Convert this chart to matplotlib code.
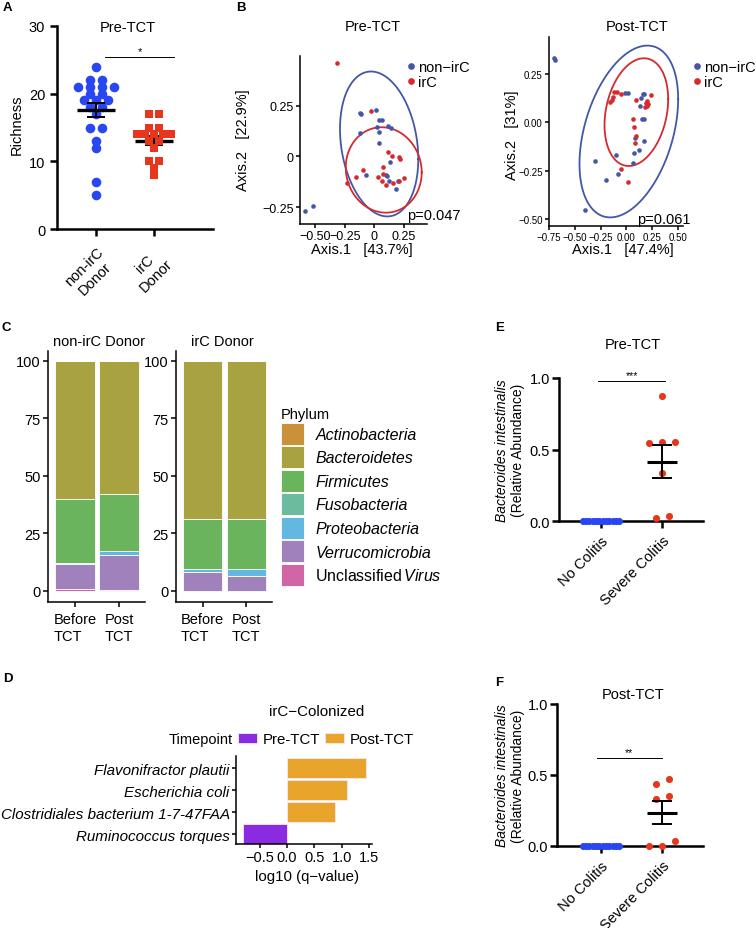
import numpy as np
import matplotlib
matplotlib.use("Agg")
import matplotlib.pyplot as plt
from matplotlib.patches import Patch
from matplotlib.lines import Line2D

plt.rcParams['font.family'] = ['Liberation Sans', 'DejaVu Sans']
plt.rcParams['mathtext.fontset'] = 'custom'
plt.rcParams['mathtext.rm'] = 'Liberation Sans'
plt.rcParams['mathtext.it'] = 'Liberation Sans:italic'

# ---- A: richness, pre-TCT ----
richness_groups = ['non-irC\nDonor', 'irC\nDonor']
richness_non_irc = [24, 22, 22, 21, 21, 21, 21, 20, 20, 19, 19, 19,
                    18, 18, 17, 15, 15, 13, 12, 7, 5]
richness_irc = [17, 17, 15, 15, 14, 14, 14, 14, 14, 13, 13, 12, 10, 10, 9, 8]

# ---- B: PCoA ----
pre_non_x = [-0.586, -0.524, -0.115, -0.118, 0.013, 0.041, 0.064, 0.021, 0.120,
             0.139, 0.038, -0.123, 0.041, 0.134, -0.070, 0.103, 0.112, 0.124,
             0.200, 0.185]
pre_non_y = [-0.27, -0.245, 0.21, 0.215, 0.227, 0.18, 0.178, 0.143, 0.15,
             0.14, 0.12, 0.115, 0.066, -0.03, -0.09, -0.09, -0.095, -0.12,
             -0.12, -0.16]
pre_irc_x = [-0.314, -0.027, 0.120, 0.154, 0.214, 0.222, 0.072, -0.098, -0.155,
             -0.234, 0.030, 0.072, 0.066, 0.100, 0.162, 0.214, 0.253]
pre_irc_y = [0.46, 0.225, 0.02, 0.0, -0.005, -0.011, -0.05, -0.065, -0.10,
             -0.13, -0.10, -0.087, -0.12, -0.14, -0.13, -0.12, -0.105]
post_non_x = [-0.70, -0.69, -0.01, 0.02, 0.16, 0.175, 0.14, 0.13, 0.155, 0.17,
              0.085, 0.17, 0.12, 0.07, -0.10, 0.06, -0.30, -0.085, -0.20, -0.405]
post_non_y = [0.33, 0.32, 0.15, 0.15, 0.145, 0.148, 0.128, 0.086, 0.02, 0.016,
              -0.083, -0.097, -0.14, -0.16, -0.17, -0.21, -0.20, -0.265, -0.30, -0.45]
post_irc_x = [-0.12, -0.09, -0.05, -0.13, -0.16, -0.14, 0.095, 0.235, 0.20, 0.19,
              0.21, 0.18, 0.20, 0.06, 0.07, 0.09, 0.085, -0.05, 0.02]
post_irc_y = [0.155, 0.157, 0.148, 0.13, 0.107, 0.114, 0.117, 0.143, 0.112, 0.10,
              0.095, 0.08, 0.083, 0.017, -0.022, -0.07, -0.105, -0.24, -0.31]
# ellipse: centre x, centre y, x half-width, y shift at x-extreme, remaining y half-axis
ell_pre_non = [0.042, 0.061, 0.333, -0.074, 0.349]
ell_pre_irc = [0.081, -0.067, 0.323, -0.012, 0.21]
ell_post_non = [0.024, -0.047, 0.479, 0.167, 0.411]
ell_post_irc = [0.097, 0.053, 0.309, 0.067, 0.27]
pcoa_p = ['p=0.047', 'p=0.061']

# ---- C: phylum composition ----
phyla = ['Actinobacteria', 'Bacteroidetes', 'Firmicutes', 'Fusobacteria',
         'Proteobacteria', 'Verrucomicrobia', 'Unclassified Virus']
phylum_colors = ['#C8913A', '#A9A240', '#6BB45E', '#6DBB9F', '#63B8E2',
                 '#A081BC', '#D165A6']
timepoints_c = ['Before\nTCT', 'Post\nTCT']
# rows follow phyla, columns: before, post
non_irc_pct = [[0, 0], [60.0, 58.0], [27.9, 24.7], [0, 0], [0.5, 1.5],
               [10.8, 15.5], [0.8, 0.3]]
irc_pct = [[0, 0], [68.8, 68.8], [21.8, 21.8], [0, 0], [1.3, 2.7],
           [8.1, 6.7], [0, 0]]

# ---- D: differential species ----
species = ['Ruminococcus torques', 'Clostridiales bacterium 1-7-47FAA',
           'Escherichia coli', 'Flavonifractor plautii']
log_q = [-0.81, 0.87, 1.10, 1.44]
species_time = ['Pre-TCT', 'Post-TCT', 'Post-TCT', 'Post-TCT']
time_colors = {'Pre-TCT': '#8A2BE2', 'Post-TCT': '#E9A42B'}

# ---- E/F: Bacteroides intestinalis ----
colitis_groups = ['No Colitis', 'Severe Colitis']
e_no = [0.0] * 12
e_severe = [0.874, 0.551, 0.542, 0.549, 0.337, 0.021, 0.035]
f_no = [0.0] * 12
f_severe = [0.475, 0.44, 0.353, 0.329, 0.038, 0.0, 0.0]

BLUE = '#2846F2'
RED = '#E8361C'
PC_BLUE = '#4457A6'
PC_RED = '#D62A2E'

W, H = 756, 929
fig = plt.figure(figsize=(W / 100, H / 100), dpi=100)
fig.patch.set_facecolor('white')


def add_axes(x0, y0, x1, y1):
    return fig.add_axes([x0 / W, 1 - y1 / H, (x1 - x0) / W, (y1 - y0) / H])


def ftext(x, y, s, **kw):
    return fig.text(x / W, 1 - y / H, s, **kw)


def classic(ax, lw=1.0, tick_len=3.5):
    for s in ['top', 'right']:
        ax.spines[s].set_visible(False)
    for s in ['left', 'bottom']:
        ax.spines[s].set_linewidth(lw)
    ax.tick_params(width=lw, length=tick_len, colors='black')


def group_offsets(vals, tol, step, max_width):
    """spread points of similar value side by side (column scatter)"""
    vals = np.asarray(vals, float)
    order = np.argsort(vals, kind='stable')
    offs = np.zeros(len(vals))
    groups = []
    for i in order:
        if groups and vals[i] - vals[groups[-1][0]] <= tol:
            groups[-1].append(i)
        else:
            groups.append([i])
    for g in groups:
        n = len(g)
        s = step if n < 2 else min(step, max_width / (n - 1))
        for k, i in enumerate(g):
            offs[i] = (k - (n - 1) / 2) * s
    return offs


def mean_sem(ax, x, vals, half, cap, lw_mean, z):
    v = np.asarray(vals, float)
    m = v.mean()
    se = v.std(ddof=1) / np.sqrt(len(v))
    ax.hlines(m, x - half, x + half, color='black', lw=lw_mean, zorder=z)
    ax.vlines(x, m - se, m + se, color='black', lw=1.4, zorder=z)
    ax.hlines([m - se, m + se], x - cap, x + cap, color='black', lw=1.4, zorder=z)


def ellipse(ax, p, color):
    t = np.linspace(0, 2 * np.pi, 300)
    ax.plot(p[0] + p[2] * np.cos(t), p[1] + p[3] * np.cos(t) + p[4] * np.sin(t),
            color=color, lw=1.3)


# ================= A =================
axA = add_axes(57, 27, 213, 230)
classic(axA, lw=1.8, tick_len=5)
off = group_offsets(richness_non_irc, 0.5, 0.21, 0.64)
axA.scatter(0 + off, richness_non_irc, s=48, color=BLUE, lw=0, zorder=3, clip_on=False)
mean_sem(axA, 0, richness_non_irc, 0.33, 0.16, 2.4, 4)
off = group_offsets(richness_irc, 0.5, 0.16, 0.6)
axA.scatter(1 + off, richness_irc, s=40, marker='s', color=RED, lw=0, zorder=3)
mean_sem(axA, 1, richness_irc, 0.33, 0.16, 2.4, 2)
axA.set_xlim(-0.672, 2.017)
axA.set_ylim(0, 30)
axA.set_yticks([0, 10, 20, 30])
axA.set_xticks([0, 1])
axA.set_xticklabels(richness_groups, rotation=45, ha='right', va='top',
                    rotation_mode='anchor', multialignment='center', fontsize=10)
axA.tick_params(labelsize=10.5)
axA.tick_params(axis='x', pad=6)
axA.plot([0.155, 1.345], [25.4, 25.4], color='black', lw=0.7, clip_on=False)
axA.text(0.75, 25.5, '*', ha='center', va='bottom', fontsize=8)
ftext(128, 28, 'Pre-TCT', ha='center', va='center', fontsize=10.5)
ftext(17, 125, 'Richness', ha='center', va='center', rotation=90, fontsize=10.5)

# ================= B =================
def pcoa(box, xlim, ylim, nx, ny, irx, iry, en, ei, ptxt, ppos, xticks, xtl,
         yticks, ytl, tsize, leg_xy):
    ax = add_axes(*box)
    classic(ax, lw=1.1, tick_len=3)
    ellipse(ax, en, PC_BLUE)
    ellipse(ax, ei, PC_RED)
    ax.scatter(nx, ny, s=11, color=PC_BLUE, lw=0, zorder=3, clip_on=False)
    ax.scatter(irx, iry, s=11, color=PC_RED, lw=0, zorder=3, clip_on=False)
    ax.set_xlim(*xlim)
    ax.set_ylim(*ylim)
    ax.set_xticks(xticks)
    ax.set_xticklabels(xtl)
    ax.set_yticks(yticks)
    ax.set_yticklabels(ytl)
    ax.tick_params(labelsize=tsize, pad=1.5)
    ax.text(ppos[0], ppos[1], ptxt, ha='left', va='bottom', fontsize=10.5,
            clip_on=False)
    handles = [Line2D([], [], marker='o', ls='', color=PC_BLUE, markersize=3.8),
               Line2D([], [], marker='o', ls='', color=PC_RED, markersize=3.8)]
    fig.legend(handles, ['non\u2212irC', 'irC'], loc='upper left',
               bbox_to_anchor=(leg_xy[0] / W, 1 - leg_xy[1] / H),
               frameon=False, fontsize=10.5, handletextpad=0.05,
               handlelength=0.9, labelspacing=0.05, borderpad=0,
               borderaxespad=0)
    return ax


M = '\u2212'
pcoa((300, 57, 427, 225), (-0.631, 0.449), (-0.333, 0.494),
     pre_non_x, pre_non_y, pre_irc_x, pre_irc_y, ell_pre_non, ell_pre_irc,
     pcoa_p[0], (0.28, -0.325),
     [-0.5, -0.25, 0, 0.25], [M + '0.50', M + '0.25', '0', '0.25'],
     [-0.25, 0, 0.25], [M + '0.25', '0', '0.25'], 9, (404, 61))
ftext(373, 27, 'Pre-TCT', ha='center', va='center', fontsize=10.5)
ftext(362, 250, 'Axis.1   [43.7%]', ha='center', va='center', fontsize=10.5)
ftext(243, 140, 'Axis.2   [22.9%]', ha='center', va='center', rotation=90,
      fontsize=10.5)

pcoa((549, 38, 683, 227), (-0.751, 0.550), (-0.535, 0.441),
     post_non_x, post_non_y, post_irc_x, post_irc_y, ell_post_non, ell_post_irc,
     pcoa_p[1], (0.10, -0.537),
     [-0.75, -0.5, -0.25, 0, 0.25, 0.5],
     [M + '0.75', M + '0.50', M + '0.25', '0.00', '0.25', '0.50'],
     [-0.5, -0.25, 0, 0.25], [M + '0.50', M + '0.25', '0.00', '0.25'], 7,
     (690, 61))
ftext(637, 27, 'Post-TCT', ha='center', va='center', fontsize=10.5)
ftext(623, 250, 'Axis.1   [47.4%]', ha='center', va='center', fontsize=10.5)
ftext(512, 135, 'Axis.2   [31%]', ha='center', va='center', rotation=90,
      fontsize=10.5)

# ================= C =================
def stacked(box, pct, title, tx):
    ax = add_axes(*box)
    classic(ax, lw=1.1, tick_len=3.5)
    x = np.arange(len(timepoints_c))
    bottom = np.zeros(len(x))
    for i in range(len(phyla) - 1, -1, -1):
        v = np.array(pct[i], float)
        ax.bar(x, v, bottom=bottom, width=0.9, color=phylum_colors[i],
               edgecolor='white', lw=0.6)
        bottom += v
    ax.set_xlim(-0.61, 1.59)
    ax.set_ylim(-4.8, 104.3)
    ax.set_yticks([0, 25, 50, 75, 100])
    ax.set_xticks(x)
    ax.set_xticklabels(timepoints_c, multialignment='left', linespacing=1.25)
    ax.tick_params(labelsize=10.5, pad=2)
    ax.tick_params(axis='x', pad=4)
    ftext(tx, 342, title, ha='center', va='center', fontsize=10.5)
    return ax


axC1 = stacked((48, 352, 145, 603), non_irc_pct, 'non-irC Donor', 99)
axC2 = stacked((176, 352, 272, 603), irc_pct, 'irC Donor', 222)
labels = phyla[:-1] + ['Unclassified$\\,\\mathit{Virus}$']
handles = [Patch(facecolor=c, edgecolor='white', lw=0.6) for c in phylum_colors]
legC = fig.legend(handles, labels, title='Phylum', loc='upper left',
                  bbox_to_anchor=(281 / W, 1 - 408 / H), frameon=False,
                  fontsize=11.5, title_fontsize=10.5, alignment='left',
                  handlelength=1.45, handleheight=1.74, labelspacing=0.1,
                  handletextpad=0.7, borderpad=0, borderaxespad=0)
for t in legC.get_texts()[:-1]:
    t.set_fontstyle('italic')

# ================= D =================
axD = add_axes(236, 757, 372, 845)
classic(axD, lw=1.1, tick_len=3)
yy = np.arange(len(species))
axD.barh(yy, log_q, height=0.9, color=[time_colors[t] for t in species_time],
         edgecolor='#F4E9F8', lw=0.6)
axD.set_xlim(-0.93, 1.55)
axD.set_ylim(-0.45, 3.55)
axD.set_yticks(yy)
axD.set_yticklabels(species, fontstyle='italic', fontsize=10.9)
axD.set_xticks([-0.5, 0, 0.5, 1.0, 1.5])
axD.set_xticklabels([M + '0.5', '0.0', '0.5', '1.0', '1.5'], fontsize=10.5)
axD.tick_params(pad=1.5)
ftext(317, 712, 'irC\u2212Colonized', ha='center', va='center', fontsize=10.9)
ftext(307, 877, 'log10 (q\u2212value)', ha='center', va='center', fontsize=10.8)
ftext(233, 740, 'Timepoint', ha='right', va='center', fontsize=10.5)
handles = [Patch(facecolor=time_colors[k], edgecolor='#F4E9F8', lw=0.6)
           for k in ['Pre-TCT', 'Post-TCT']]
fig.legend(handles, ['Pre-TCT', 'Post-TCT'], loc='center left',
           bbox_to_anchor=(238 / W, 1 - 740 / H), ncol=2, frameon=False,
           fontsize=10.8, handlelength=1.25, handleheight=0.65,
           handletextpad=0.4, columnspacing=0.3, borderpad=0, borderaxespad=0)

# ================= E / F =================
def colitis(box, no_vals, sev_vals, title, ty, sig, sig_x, sig_y, xlim):
    ax = add_axes(*box)
    classic(ax, lw=1.8, tick_len=5)
    off = group_offsets(no_vals, 0.04, 0.213, 0.6)
    ax.scatter(0 + off, no_vals, s=26, color=BLUE, lw=0, zorder=3, clip_on=False)
    mean_sem(ax, 0, no_vals, 0.25, 0.17, 2.2, 2)
    off = group_offsets(sev_vals, 0.04, 0.213, 0.6)
    ax.scatter(1 + off, sev_vals, s=26, color=RED, lw=0, zorder=3, clip_on=False)
    mean_sem(ax, 1, sev_vals, 0.25, 0.17, 2.2, 4)
    ax.set_xlim(*xlim)
    ax.set_ylim(0, 1.0)
    ax.set_yticks([0, 0.5, 1.0])
    ax.set_yticklabels(['0.0', '0.5', '1.0'])
    ax.set_xticks([0, 1])
    ax.set_xticklabels(colitis_groups, rotation=45, ha='right', va='top',
                       rotation_mode='anchor', fontsize=10)
    ax.tick_params(labelsize=10.5)
    ax.tick_params(axis='x', pad=4)
    ax.tick_params(axis='y', pad=1.5)
    ax.plot(sig_x, [sig_y, sig_y], color='black', lw=0.7, clip_on=False)
    ax.text(np.mean(sig_x), sig_y + 0.005, sig, ha='center', va='bottom',
            fontsize=7.5)
    ftext(633, ty, title, ha='center', va='center', fontsize=10.5)
    cy = (box[1] + box[3]) / 2
    ftext(502, cy, 'Bacteroides intestinalis', ha='center', va='center',
          rotation=90, fontsize=10, fontstyle='italic')
    ftext(518, cy, '(Relative Abundance)', ha='center', va='center',
          rotation=90, fontsize=10)
    return ax


colitis((559, 379, 703, 522), e_no, e_severe, 'Pre-TCT', 345, '***',
        [-0.05, 1.05], 0.979, (-0.69, 1.67))
colitis((557, 705, 703, 847), f_no, f_severe, 'Post-TCT', 695, '**',
        [-0.07, 1.0], 0.62, (-0.72, 1.67))

# panel letters
for (x, y, s) in [(3, 2, 'A'), (236, 2, 'B'), (1, 322, 'C'), (3, 673, 'D'),
                  (495, 322, 'E'), (495, 677, 'F')]:
    ftext(x, y, s, ha='left', va='top', fontsize=9.5, fontweight='bold')

fig.savefig('out.png', dpi=100, facecolor='white')
